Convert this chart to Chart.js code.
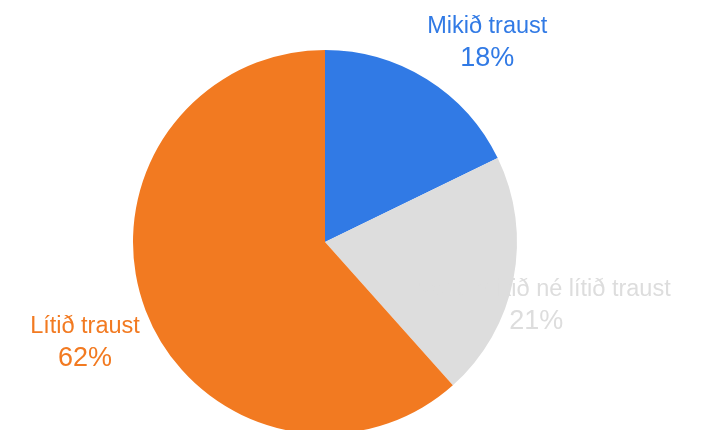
<!DOCTYPE html>
<html>
<head>
<meta charset="utf-8">
<script src="https://cdn.jsdelivr.net/npm/chart.js@4"></script>
<style>
  html, body { margin: 0; padding: 0; background: #fff; overflow: hidden; }
  #wrap { width: 703px; height: 430px; overflow: hidden; }
</style>
</head>
<body>
<div id="wrap"><canvas id="pie" width="703" height="500"></canvas></div>
<script>
// data
const categories = ['Mikið traust', 'Hvorki mikið né lítið traust', 'Lítið traust'];
const values = [17.8, 20.6, 61.6];
const pctLabels = ['18%', '21%', '62%'];
const colors = ['#317ae5', '#dddddd', '#f27a21'];

// where each label block sits, as a fraction of the radius from the centre
const labelSpots = [[0.845, -1.05], [1.10, 0.32], [-1.25, 0.51]];

const outsideLabels = {
    id: 'outsideLabels',
    afterDatasetsDraw(chart) {
        const ctx = chart.ctx;
        const arcs = chart.getDatasetMeta(0).data;
        ctx.save();
        ctx.textAlign = 'center';
        ctx.textBaseline = 'alphabetic';
        arcs.forEach((arc, i) => {
            const r = arc.outerRadius;
            const cx = arc.x + r * labelSpots[i][0];
            const cy = arc.y + r * labelSpots[i][1];
            ctx.fillStyle = colors[i];
            ctx.font = '23.5px "Liberation Sans", Arial, sans-serif';
            ctx.fillText(categories[i], cx, cy - 7);
            ctx.font = '27px "Liberation Sans", Arial, sans-serif';
            ctx.fillText(pctLabels[i], cx, cy + 26);
        });
        ctx.restore();
    }
};

new Chart(document.getElementById('pie'), {
    type: 'pie',
    data: {
        labels: categories,
        datasets: [{
            data: values,
            backgroundColor: colors,
            borderWidth: 0,
            hoverOffset: 0
        }]
    },
    options: {
        responsive: false,
        animation: false,
        layout: { padding: { top: 50, bottom: 66, left: 133, right: 186 } },
        plugins: {
            legend: { display: false },
            tooltip: { enabled: false }
        }
    },
    plugins: [outsideLabels]
});
</script>
</body>
</html>
